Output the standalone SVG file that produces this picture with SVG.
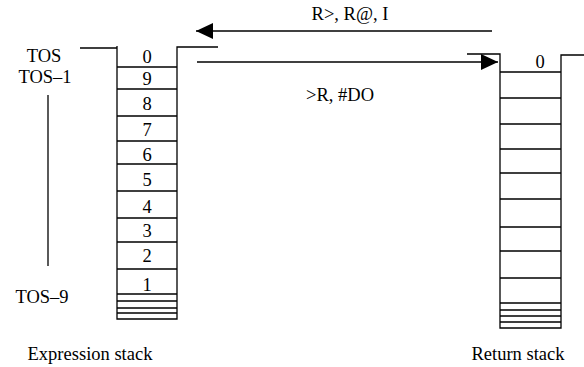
<svg xmlns="http://www.w3.org/2000/svg" width="584" height="367" viewBox="0 0 584 367">
<style>
.l{stroke:#000;stroke-width:1.3;fill:none}
text{font-family:"Liberation Serif","DejaVu Serif","Times New Roman",serif;font-size:18.5px;fill:#000}
.c{text-anchor:middle}
</style>
<defs>
<marker id="ah" markerWidth="17" markerHeight="16" refX="17" refY="8" orient="auto" markerUnits="userSpaceOnUse">
<path d="M0,0 L17,8 L0,16 Z" fill="#000"/>
</marker>
</defs>
<rect width="584" height="367" fill="#fff"/>
<g id="expression-stack">
<path class="l" d="M80,48 H117 M117,46 V319 H177 V47 H218"/>
<path class="l" d="M117,67 H177 M117,89 H177 M117,116 H177 M117,141 H177 M117,164 H177 M117,191 H177 M117,218 H177 M117,242 H177 M117,269 H177 M117,294 H177 M117,301 H177 M117,308 H177 M117,313 H177"/>
<text class="c" x="147" y="63">0</text>
<text class="c" x="147" y="85">9</text>
<text class="c" x="147" y="110">8</text>
<text class="c" x="147" y="136">7</text>
<text class="c" x="147" y="161">6</text>
<text class="c" x="147" y="186">5</text>
<text class="c" x="147" y="213">4</text>
<text class="c" x="147" y="237">3</text>
<text class="c" x="147" y="262">2</text>
<text class="c" x="147" y="291">1</text>
<text class="c" x="90" y="360">Expression stack</text>
</g>
<g id="tos-labels">
<text class="c" x="44" y="62">TOS</text>
<text class="c" x="45" y="83">TOS–1</text>
<path class="l" d="M48,95 V266"/>
<text class="c" x="42" y="303">TOS–9</text>
</g>
<g id="return-stack">
<path class="l" d="M467,54 H500 V328 H561 V55 H584"/>
<path class="l" d="M500,72 H561 M500,98 H561 M500,124 H561 M500,149 H561 M500,173 H561 M500,199 H561 M500,227 H561 M500,251 H561 M500,278 H561 M500,303 H561 M500,310 H561 M500,316 H561 M500,322 H561"/>
<text class="c" x="540" y="68">0</text>
<text class="c" x="518" y="360">Return stack</text>
</g>
<g id="connectors">
<path class="l" d="M492,31 H196" marker-end="url(#ah)"/>
<text class="c" x="350" y="20">R&gt;, R@, I</text>
<path class="l" d="M197,62 H498" marker-end="url(#ah)"/>
<text class="c" x="340" y="101">&gt;R, #DO</text>
</g>
</svg>
